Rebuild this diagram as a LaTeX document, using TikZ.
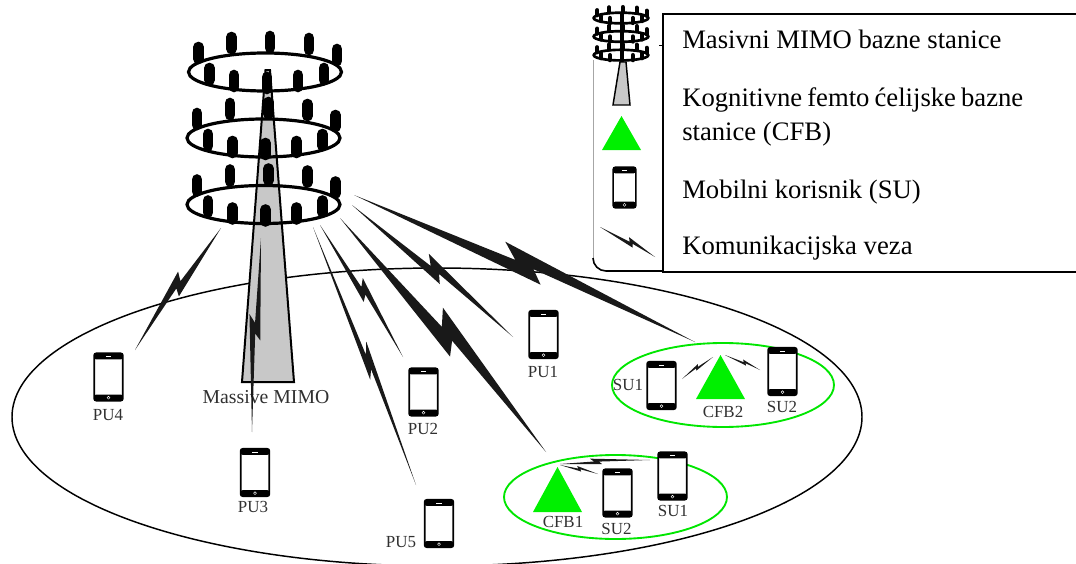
\documentclass[tikz,border=0pt]{standalone}
\usepackage{fontspec}
\setmainfont{Liberation Serif}
\usetikzlibrary{calc}
\definecolor{labelgray}{HTML}{303030}
\definecolor{ringgreen}{HTML}{00E600}
\definecolor{tripgreen}{HTML}{00F000}
\definecolor{mastgray}{HTML}{C8C8C8}
\tikzset{
  phone/.style={draw=black,line width=1.3pt,fill=white,rounded corners=1.6pt,inner sep=0pt,
    minimum width=21.5pt,minimum height=35.5pt,
    path picture={
      \fill[black] (path picture bounding box.north west) rectangle ([yshift=-4.6pt]path picture bounding box.north east);
      \fill[black] (path picture bounding box.south west) rectangle ([yshift=4.6pt]path picture bounding box.south east);
      \draw[white,line width=.3pt] ([yshift=2.2pt]path picture bounding box.south) circle (1.1pt);
      \draw[white,line width=.3pt] ([xshift=-2pt,yshift=-2.4pt]path picture bounding box.north) -- ([xshift=2pt,yshift=-2.4pt]path picture bounding box.north);
    }},
  smallphone/.style={phone,minimum width=17pt,minimum height=30.5pt,line width=1.1pt},
  plabel/.style={font=\fontsize{12.7}{15}\selectfont,text=labelgray,inner sep=0pt},
  legendtext/.style={font=\fontsize{20}{24}\selectfont,anchor=base west,inner sep=0pt,text=black},
  greenring/.style={draw=ringgreen,line width=1.4pt},
  cfbtri/.style={fill=tripgreen,draw=none},
  bolt/.style={fill=black!90},
  mast/.style={fill=mastgray,draw=black,line width=1.5pt,line join=miter},
}
% lightning connector: from, to, barb size (px), centre position along the line
\newcommand{\lbolt}[4]{%
  \pgfmathsetmacro\boltwa{.25*#3*.75}\pgfmathsetmacro\boltwb{#3*.75}%
  \pgfmathsetmacro\boltwc{.17*#3*.75}\pgfmathsetmacro\boltwd{-.5*#3*.75}%
  \pgfmathsetmacro\boltta{#4-.022}\pgfmathsetmacro\volttb{#4-.066}%
  \pgfmathsetmacro\volttc{#4+.033}\pgfmathsetmacro\volttd{#4+.067}%
  \fill[bolt] (#1)
    -- ($(#1)!\boltta!(#2)!\boltwa pt!90:(#2)$)
    -- ($(#1)!\volttb!(#2)!\boltwb pt!90:(#2)$)
    -- (#2)
    -- ($(#1)!\volttc!(#2)!\boltwc pt!90:(#2)$)
    -- ($(#1)!\volttd!(#2)!\boltwd pt!90:(#2)$)
    -- cycle;}
% one ring of the tower
\newcommand{\antring}[5]{% x y ring-line-width antenna-width antenna half-length
  \begin{scope}[shift={(#1,#2)}]
    \foreach \ax/\ay in {-66.5/-19,-33.5/-29,5/-30,44/-28,72/-17}
      \draw[line width=#4,line cap=round] (\ax,\ay-#5) -- (\ax,\ay+#5);
    \draw[line width=#3] (0,0) ellipse (76.5 and 19);
    \foreach \ax/\ay in {-55.5/2,-31/9,2/11,33/9,59/2}
      \draw[line width=#4,line cap=round] (\ax,\ay-#5) -- (\ax,\ay+#5);
  \end{scope}}
\begin{document}
\begin{tikzpicture}[x=.75pt,y=-.75pt]
\useasboundingbox (0,0) rectangle (1076,564);
% main cell
\draw[line width=1.1pt] (437,417) ellipse (425 and 149);
% green femto cells
\draw[greenring] (723,385) ellipse (111 and 42);
\draw[greenring] (615.5,497) ellipse (111.5 and 42);
% massive MIMO tower
\draw[mast] (265.5,70) -- (270,70) -- (294,382) -- (242,382) -- cycle;
\antring{265}{72}{2.4pt}{8pt}{6}
\antring{263.5}{138}{2.4pt}{8pt}{6}
\antring{263.5}{204.5}{2.4pt}{8pt}{6}
% terminals
\node[phone] (pu1) at (543.5,334.5) {};
\node[phone] (pu2) at (423.5,392) {};
\node[phone] (pu3) at (255,472.5) {};
\node[phone] (pu4) at (108.5,377) {};
\node[phone] (pu5) at (439,523.5) {};
\node[phone] (su1a) at (661.5,385.5) {};
\node[phone] (su2a) at (782.5,371.5) {};
\node[phone] (su2b) at (617.5,493) {};
\node[phone] (su1b) at (672.5,476) {};
% base stations
\fill[cfbtri] (720.5,355) -- (745,399) -- (696,399) -- cycle;
\fill[cfbtri] (557.5,467) -- (582,512) -- (533,512) -- cycle;
% labels
\node[plabel] (lpu1) at (543,371.5) {PU1};
\node[plabel] (lpu2) at (423,428.5) {PU2};
\node[plabel] (lpu3) at (253,507) {PU3};
\node[plabel] (lpu4) at (108,415) {PU4};
\node[plabel] (lpu5) at (401,542.5) {PU5};
\node[plabel] (lsu1a) at (628,385) {SU1};
\node[plabel] (lsu2a) at (782,406.5) {SU2};
\node[plabel] (lcfb2) at (723,412) {CFB2};
\node[plabel] (lcfb1) at (563,522) {CFB1};
\node[plabel] (lsu2b) at (616.5,529) {SU2};
\node[plabel] (lsu1b) at (673,510.5) {SU1};
\node[plabel,font=\fontsize{14.8}{18}\selectfont] (lmm) at (266,397) {Massive MIMO};
% link end points
\coordinate (s4) at (221,228);  \coordinate (e4) at (135,350);
\coordinate (s3) at (261,238);  \coordinate (e3) at (252,432);
\coordinate (s5) at (313,227);  \coordinate (e5) at (416,485);
\coordinate (s2) at (320,225);  \coordinate (e2) at (403,357);
\coordinate (sb) at (340,218);  \coordinate (eb) at (546,452);
\coordinate (s1) at (352,205);  \coordinate (e1) at (513,337);
\coordinate (sc) at (354,195);  \coordinate (ec) at (695,342);
\coordinate (fa1) at (713,357); \coordinate (fa2) at (682,379);
\coordinate (fb1) at (725,355); \coordinate (fb2) at (760,370);
\coordinate (fc1) at (560,465); \coordinate (fc2) at (598,474);
\coordinate (fd1) at (560,464); \coordinate (fd2) at (650,460);
% links
\lbolt{s4}{e4}{-10}{.47}
\lbolt{s3}{e3}{-8}{.46}
\lbolt{s5}{e5}{7}{.52}
\lbolt{s2}{e2}{8}{.5}
\lbolt{sb}{eb}{18}{.5}
\lbolt{s1}{e1}{11}{.5}
\lbolt{sc}{ec}{17}{.49}
\lbolt{fa1}{fa2}{-3}{.5}
\lbolt{fb1}{fb2}{3}{.55}
\lbolt{fc1}{fc2}{3}{.5}
\lbolt{fd1}{fd2}{4}{.4}
% legend
\draw[black!35,line width=.5pt] (593,60) -- (593,258);
\draw[line width=1.2pt] (593,258) to[out=270,in=180] (606,271) -- (662,271);
\draw[line width=2.6pt] (622,12) -- (622,60);
\begin{scope}[shift={(621,36.5)},xscale=.357,yscale=.28,shift={(-263.5,-138)}]
  \antring{263.5}{72}{2pt}{3.2pt}{9}
  \antring{263.5}{138}{2pt}{3.2pt}{9}
  \antring{263.5}{204.5}{2pt}{3.2pt}{9}
\end{scope}
\draw[mast,line width=1.1pt] (620,62) -- (626,62) -- (630,105) -- (613,105) -- cycle;
\fill[cfbtri] (621.5,116) -- (641,150) -- (602,150) -- cycle;
\node[smallphone] (legphone) at (624.5,187.5) {};
\coordinate (ls) at (600,227); \coordinate (le) at (655,257);
\lbolt{ls}{le}{5}{.55}
\draw[line width=.6pt] (659,45) -- (662,45);
\node[draw=black,line width=1.2pt,fill=white,minimum width=310.5pt,minimum height=193.5pt,inner sep=0pt,anchor=north west] (legbox) at (662,13) {};
\node[legendtext] (lt1) at (682,48) {Masivni MIMO bazne stanice};
\node[legendtext] (lt2) at (682,106) {\spaceskip=.19em Kognitivne femto ćelijske bazne};
\node[legendtext] (lt3) at (682,140) {stanice (CFB)};
\node[legendtext] (lt4) at (682,198) {Mobilni korisnik (SU)};
\node[legendtext] (lt5) at (682,254) {Komunikacijska veza};
\end{tikzpicture}
\end{document}
